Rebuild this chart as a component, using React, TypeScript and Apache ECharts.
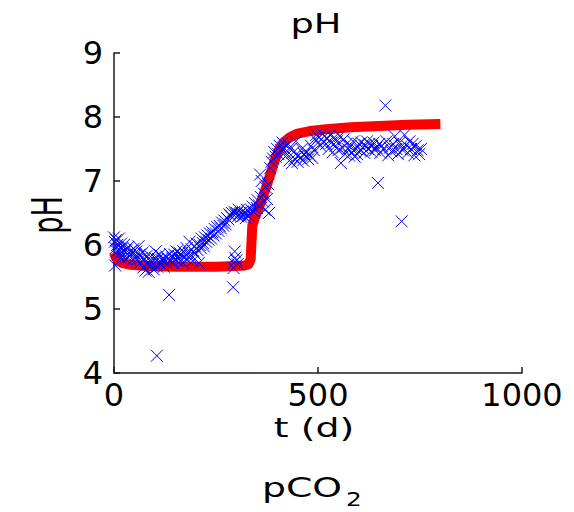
import React, { useEffect, useRef } from 'react';
import * as echarts from 'echarts';

// Observed pH (blue crosses): time in days and pH
const obsT = [
  0, 2, 3, 4, 5, 7, 8, 10, 12, 13,
  15, 17, 18, 20, 22, 24, 26, 28, 30, 33,
  35, 38, 40, 43, 45, 48, 50, 53, 55, 58,
  60, 63, 65, 68, 70, 72, 75, 77, 80, 82,
  85, 87, 90, 92, 95, 97, 100, 102, 105, 106,
  108, 110, 112, 115, 118, 120, 122, 125, 128, 130,
  133, 135, 137, 140, 143, 145, 148, 150, 153, 155,
  158, 160, 163, 165, 168, 170, 173, 175, 178, 180,
  183, 185, 188, 190, 193, 195, 198, 200, 203, 205,
  208, 210, 213, 215, 218, 220, 223, 226, 229, 232,
  235, 238, 241, 244, 247, 250, 253, 256, 259, 262,
  265, 268, 271, 274, 277, 280, 283, 286, 289, 292,
  293, 294, 295, 296, 297, 298, 300, 301, 303, 304,
  306, 308, 310, 312, 315, 318, 320, 323, 326, 328,
  330, 333, 336, 340, 343, 346, 350, 352, 355, 358,
  360, 362, 365, 368, 370, 372, 375, 378, 380, 383,
  386, 390, 393, 396, 400, 403, 406, 410, 413, 416,
  420, 423, 426, 430, 433, 436, 440, 443, 446, 450,
  453, 456, 460, 463, 466, 470, 473, 476, 480, 483,
  486, 490, 493, 496, 500, 503, 506, 510, 513, 516,
  520, 523, 526, 530, 533, 536, 540, 543, 546, 550,
  553, 556, 560, 563, 566, 570, 573, 576, 580, 583,
  586, 590, 593, 596, 600, 603, 606, 610, 613, 616,
  620, 623, 626, 630, 633, 636, 640, 643, 647, 650,
  653, 656, 660, 665, 668, 672, 676, 680, 684, 688,
  692, 696, 700, 704, 705, 708, 712, 716, 720, 724,
  728, 732, 736, 740, 744, 748, 752,
];
const obsPH = [
  6.12, 6.05, 5.68, 5.95, 6.08, 5.9, 6.0, 5.85, 6.1, 5.93,
  5.8, 6.02, 5.88, 5.95, 5.83, 6.0, 5.9, 5.78, 5.92, 5.86,
  5.97, 5.82, 5.9, 5.75, 5.88, 5.94, 5.8, 5.85, 5.9, 5.78,
  5.98, 5.85, 5.72, 5.8, 5.88, 5.65, 5.78, 5.6, 5.83, 5.7,
  5.58, 5.76, 5.82, 5.68, 5.74, 5.62, 5.8, 5.9, 4.27, 5.66,
  5.78, 5.72, 5.85, 5.7, 5.76, 5.8, 5.66, 5.74, 5.82, 5.7,
  5.78, 5.22, 5.86, 5.75, 5.8, 5.72, 5.85, 5.78, 5.9, 5.75,
  5.82, 5.88, 5.76, 5.84, 5.72, 5.9, 5.8, 5.86, 5.95, 5.78,
  5.88, 6.05, 5.82, 5.93, 5.75, 5.9, 5.98, 5.85, 6.02, 5.92,
  5.72, 6.0, 5.95, 6.1, 6.03, 5.98, 6.12, 6.05, 6.15, 6.08,
  6.18, 6.1, 6.2, 6.15, 6.25, 6.18, 6.28, 6.22, 6.3, 6.26,
  6.35, 6.3, 6.38, 6.32, 6.42, 6.4, 6.48, 6.45, 6.5, 5.34,
  5.64, 5.72, 6.52, 5.9, 5.8, 6.48, 5.76, 6.5, 5.7, 6.45,
  6.55, 6.48, 6.5, 6.44, 6.52, 6.46, 6.5, 6.42, 6.55, 6.47,
  6.45, 6.5, 6.55, 6.6, 6.52, 6.65, 6.58, 6.7, 6.62, 7.1,
  6.75, 7.0, 6.68, 6.8, 6.55, 6.9, 6.72, 6.95, 6.5, 7.2,
  7.3, 7.35, 7.45, 7.38, 7.5, 7.42, 7.55, 7.48, 7.6, 7.52,
  7.45, 7.4, 7.58, 7.32, 7.5, 7.28, 7.45, 7.35, 7.62, 7.3,
  7.4, 7.36, 7.5, 7.32, 7.42, 7.38, 7.45, 7.34, 7.4, 7.55,
  7.36, 7.48, 7.66, 7.72, 7.6, 7.68, 7.55, 7.74, 7.62, 7.7,
  7.58, 7.66, 7.5, 7.72, 7.6, 7.45, 7.68, 7.55, 7.62, 7.48,
  7.7, 7.28, 7.52, 7.65, 7.42, 7.58, 7.5, 7.4, 7.55, 7.45,
  7.62, 7.38, 7.5, 7.42, 7.58, 7.48, 7.6, 7.52, 7.44, 7.56,
  7.62, 7.5, 7.58, 7.46, 7.55, 7.6, 7.48, 7.52, 6.97, 7.58,
  7.44, 7.55, 7.5, 8.18, 7.62, 7.4, 7.52, 7.46, 7.58, 7.7,
  7.5, 7.42, 7.6, 7.54, 6.37, 7.48, 7.72, 7.56, 7.44, 7.62,
  7.5, 7.58, 7.4, 7.55, 7.48, 7.42, 7.5,
];

// Model curve (red line)
const modelT = [
  0, 5, 10, 20, 40, 80, 150, 250, 300, 320,
  330, 335, 337, 339, 345, 355, 365, 375, 385, 395,
  405, 415, 430, 450, 480, 520, 580, 650, 720, 800,
];
const modelPH = [
  5.88, 5.8, 5.75, 5.72, 5.69, 5.67, 5.66, 5.66, 5.67, 5.68,
  5.7, 5.78, 6.05, 6.3, 6.42, 6.58, 6.76, 6.94, 7.14, 7.34,
  7.5, 7.6, 7.68, 7.74, 7.78, 7.81, 7.84, 7.86, 7.88, 7.89,
];

const xTicks = [0, 500, 1000];
const yTicks = [4, 5, 6, 7, 8, 9];
const titleText = 'pH';
const xAxisName = 't (d)';
const yAxisName = 'pH';
const bottomLabel = 'pCO';
const bottomLabelSub = '2';

export default function App() {
  const ref = useRef<HTMLDivElement>(null);
  useEffect(() => {
    if (!ref.current) return;
    const chart = echarts.init(ref.current, null, { renderer: 'svg' });
    const font = 'DejaVu Sans';
    const axisColor = '#1a1a1a';
    chart.setOption({
      animation: false,
      backgroundColor: '#ffffff',
      grid: { left: 114, top: 53, width: 408, height: 320, containLabel: false },
      xAxis: {
        type: 'value',
        min: xTicks[0],
        max: xTicks[xTicks.length - 1],
        interval: xTicks[1] - xTicks[0],
        axisLine: { show: true, onZero: false, lineStyle: { color: axisColor, width: 1.5 } },
        axisTick: { show: true, inside: true, length: 6, lineStyle: { color: axisColor, width: 1.5 } },
        axisLabel: { fontFamily: font, fontSize: 32, color: '#000', margin: 6, formatter: (v: number) => String(v) },
        splitLine: { show: false },
      },
      yAxis: {
        type: 'value',
        min: yTicks[0],
        max: yTicks[yTicks.length - 1],
        interval: yTicks[1] - yTicks[0],
        axisLine: { show: true, onZero: false, lineStyle: { color: axisColor, width: 1.5 } },
        axisTick: { show: true, inside: true, length: 6, lineStyle: { color: axisColor, width: 1.5 } },
        axisLabel: { fontFamily: font, fontSize: 32, color: '#000', margin: 11, formatter: (v: number) => String(v) },
        splitLine: { show: false },
      },
      series: [
        {
          type: 'line',
          data: modelT.map((t, i) => [t, modelPH[i]]),
          showSymbol: false,
          symbol: 'none',
          lineStyle: { color: '#ff0000', width: 10, join: 'round', cap: 'butt' },
          z: 2,
        },
        {
          type: 'scatter',
          data: obsT.map((t, i) => [t, obsPH[i]]),
          symbol: 'path://M0,0L10,10M10,0L0,10',
          symbolSize: 12,
          itemStyle: { color: 'rgba(0,0,0,0)', borderColor: '#0000ff', borderWidth: 1, opacity: 1 },
          z: 3,
        },
      ],
      graphic: [
        {
          type: 'text', x: 316, y: 24, scaleX: 1.36,
          style: { text: titleText, fontFamily: font, fontSize: 27, fill: '#000', align: 'center', verticalAlign: 'middle' },
        },
        {
          type: 'text', x: 314, y: 428, scaleX: 1.4,
          style: { text: xAxisName, fontFamily: font, fontSize: 27, fill: '#000', align: 'center', verticalAlign: 'middle' },
        },
        {
          type: 'text', x: 47, y: 215, rotation: Math.PI / 2, scaleY: 1.6,
          style: { text: yAxisName, fontFamily: font, fontSize: 27, fill: '#000', align: 'center', verticalAlign: 'middle' },
        },
        {
          type: 'text', x: 302, y: 488, scaleX: 1.4,
          style: { text: bottomLabel, fontFamily: font, fontSize: 27, fill: '#000', align: 'center', verticalAlign: 'middle' },
        },
        {
          type: 'text', x: 346, y: 500, scaleX: 1.3,
          style: { text: bottomLabelSub, fontFamily: font, fontSize: 19, fill: '#000', align: 'left', verticalAlign: 'middle' },
        },
      ],
    });
    return () => chart.dispose();
  }, []);
  return <div ref={ref} style={{ position: 'fixed', left: 0, top: 0, width: 574, height: 512 }} />;
}
